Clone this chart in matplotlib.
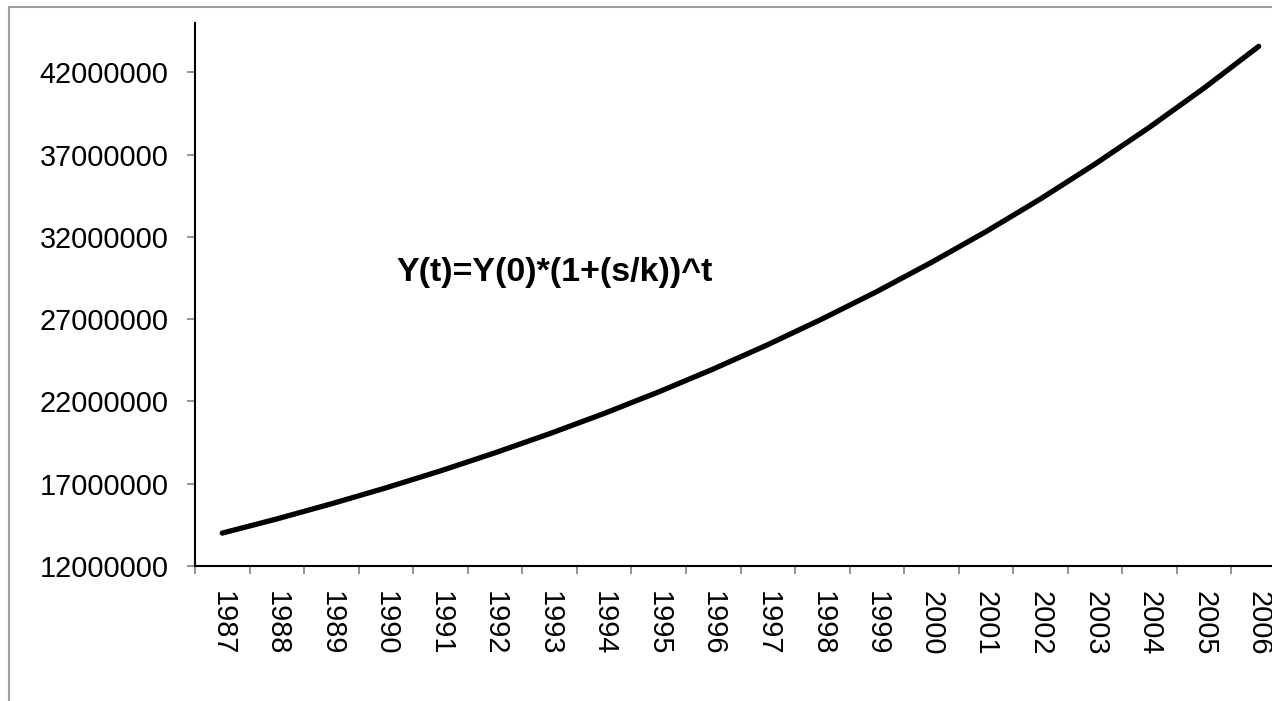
#!/usr/bin/env python3
"""
Compound growth curve Y(t)=Y(0)*(1+(s/k))^t, 1987-2006.
"""
import matplotlib
matplotlib.use("Agg")
import matplotlib.pyplot as plt
from matplotlib.patches import Rectangle

# Data
years = [str(y) for y in range(1987, 2007)]
values = [14.00e6, 14.86e6, 15.78e6, 16.75e6, 17.78e6, 18.88e6, 20.04e6,
          21.27e6, 22.58e6, 23.97e6, 25.45e6, 27.02e6, 28.68e6, 30.45e6,
          32.32e6, 34.31e6, 36.43e6, 38.67e6, 41.05e6, 43.58e6]
y_ticks = [12000000, 17000000, 22000000, 27000000, 32000000, 37000000, 42000000]
formula = "Y(t)=Y(0)*(1+(s/k))^t"

plt.rcParams['font.family'] = ['Liberation Sans', 'DejaVu Sans']

W, H = 1272, 701
fig = plt.figure(figsize=(W / 100, H / 100), dpi=100)

# chart area border (cut off on the right and bottom in the original)
fig.patches.append(Rectangle((9 / W, -0.2), 2.0, 1.2 - 6.5 / H,
                             transform=fig.transFigure, fill=False,
                             edgecolor='#a0a0a0', linewidth=1.5))

ax = fig.add_axes([195 / W, (H - 566) / H, 1091 / W, 543 / H])

x = list(range(len(years)))
ax.plot(x, values, color='black', linewidth=3.8, solid_capstyle='round')

ax.set_xlim(-0.5, len(years) - 0.5)
ax.set_ylim(12000000, 45000000)

ax.set_yticks(y_ticks)
ax.set_yticklabels([str(v) for v in y_ticks], fontsize=20.8)
ax.tick_params(axis='y', direction='out', length=6, width=1.2,
               color='#808080', pad=13)

# labels in the middle of each category, tick marks on the boundaries
ax.set_xticks(x)
ax.set_xticklabels(years, rotation=270, fontsize=20.8)
ax.tick_params(axis='x', which='major', length=0, pad=18)
ax.set_xticks([i - 0.5 for i in range(len(years) + 1)], minor=True)
ax.tick_params(axis='x', which='minor', direction='out', length=6,
               width=1.2, color='#808080')

for side in ['top', 'right']:
    ax.spines[side].set_visible(False)
for side in ['left', 'bottom']:
    ax.spines[side].set_linewidth(1.5)
    ax.spines[side].set_color('black')

ax.text(3.2, 29850000, formula, fontsize=24.5, fontweight='bold',
        ha='left', va='center')

fig.savefig("out.png", dpi=100)
